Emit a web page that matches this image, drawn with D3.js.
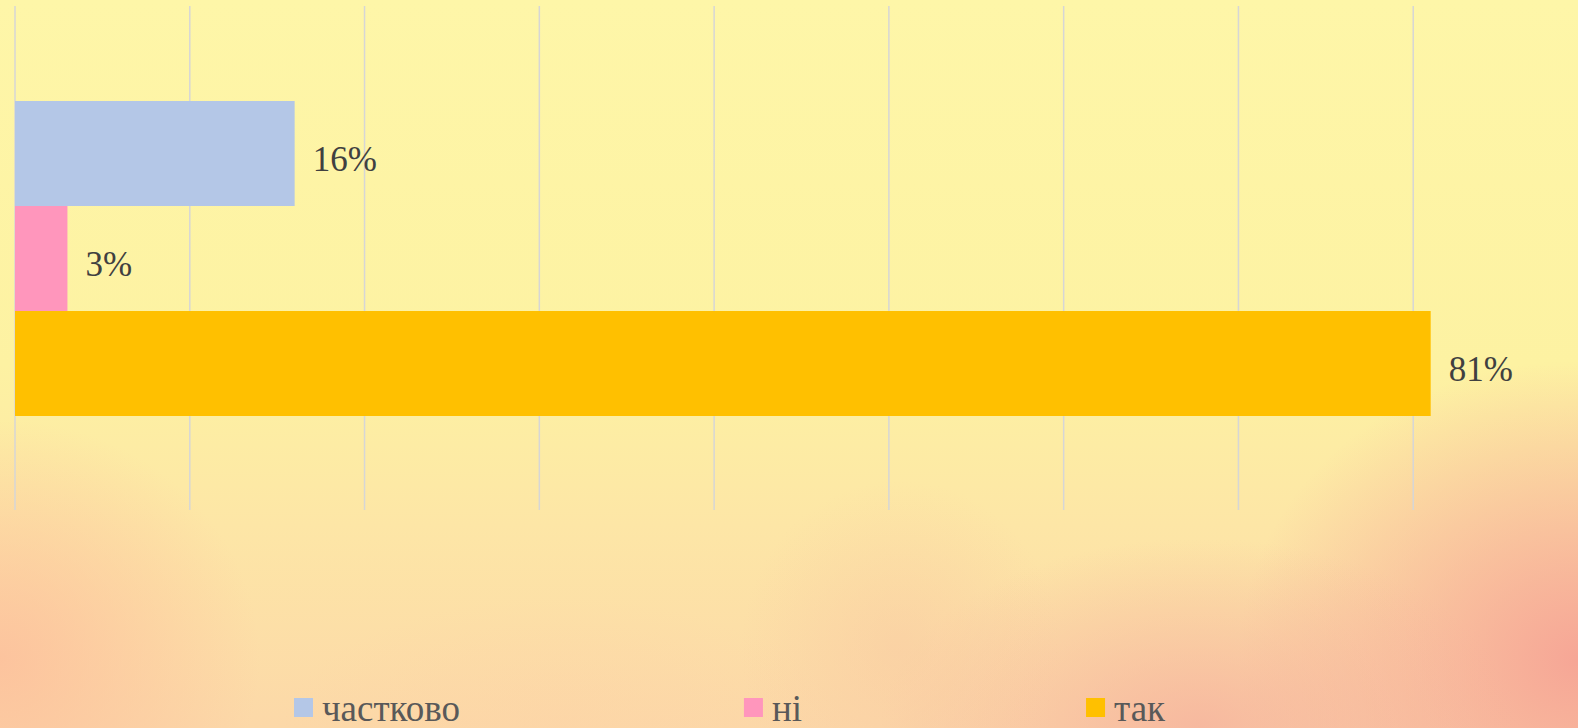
<!DOCTYPE html>
<html>
<head>
<meta charset="utf-8">
<script src="https://cdn.jsdelivr.net/npm/d3@7"></script>
<style>
  html, body { margin:0; padding:0; overflow:hidden; }
  svg { display:block; }
</style>
</head>
<body>
<svg id="chart" width="1578" height="728"></svg>
<script>
// data
const series  = ['частково', 'ні', 'так'];
const values  = [0.16, 0.03, 0.81];
const colors  = ['#b4c7e7', '#ff96bc', '#ffc000'];
const xTicks  = [0, 0.1, 0.2, 0.3, 0.4, 0.5, 0.6, 0.7, 0.8, 0.9];

const W = 1578, H = 728;
const svg = d3.select('#chart');

// --- blurred warm background ---------------------------------------------
const defs = svg.append('defs');
const lin = defs.append('linearGradient').attr('id', 'bg').attr('x1', 0).attr('y1', 0).attr('x2', 0).attr('y2', 1);
[[0, '#fef6a8'], [0.5, '#fdf2a2'], [0.72, '#fde6a6'], [1, '#fcd8a8']]
  .forEach(([o, c]) => lin.append('stop').attr('offset', o).attr('stop-color', c));

const blobs = [
  // cx, cy, rx, ry, colour, opacity
  [1578, 660, 340, 300, '#f6a696', 1.0],
  [1200, 728, 320, 190, '#f5ae9c', 0.75],
  [0,    660, 260, 240, '#fcbf9c', 0.85],
  [560,  728, 280, 130, '#fdd3a6', 0.5],
  [900,  650, 160, 170, '#f8c4a0', 0.45],
];
blobs.forEach((b, i) => {
  const g = defs.append('radialGradient').attr('id', 'blob' + i);
  g.append('stop').attr('offset', 0).attr('stop-color', b[4]).attr('stop-opacity', b[5]);
  g.append('stop').attr('offset', 1).attr('stop-color', b[4]).attr('stop-opacity', 0);
});

svg.append('rect').attr('width', W).attr('height', H).attr('fill', 'url(#bg)');
svg.append('g').selectAll('ellipse').data(blobs).join('ellipse')
  .attr('cx', d => d[0]).attr('cy', d => d[1]).attr('rx', d => d[2]).attr('ry', d => d[3])
  .attr('fill', (d, i) => `url(#blob${i})`);

// --- scales ---------------------------------------------------------------
const x = d3.scaleLinear().domain([0, 0.9]).range([15, 1588]);
const y = d3.scaleBand().domain(series).range([101, 416]).paddingInner(0);
const plotTop = 6, plotBottom = 510;

// vertical gridlines
svg.append('g').selectAll('line').data(xTicks).join('line')
  .attr('x1', d => x(d)).attr('x2', d => x(d))
  .attr('y1', plotTop).attr('y2', plotBottom)
  .attr('stroke', '#d6d6d6').attr('stroke-width', 1.5);

// bars
svg.append('g').selectAll('rect').data(series).join('rect')
  .attr('x', x(0)).attr('y', d => y(d))
  .attr('width', (d, i) => x(values[i]) - x(0))
  .attr('height', y.bandwidth())
  .attr('fill', (d, i) => colors[i]);

// value labels
svg.append('g').selectAll('text').data(series).join('text')
  .attr('x', (d, i) => x(values[i]) + 18)
  .attr('y', d => y(d) + y.bandwidth() / 2 + 5)
  .attr('dy', '0.35em')
  .attr('font-family', '"Liberation Serif", "Times New Roman", serif')
  .attr('font-size', 35).attr('fill', '#404040')
  .text((d, i) => d3.format('.0%')(values[i]));

// --- legend ---------------------------------------------------------------
const legend = svg.append('g').attr('font-family', '"Liberation Serif", "Times New Roman", serif');
let lx = 294;
series.forEach((s, i) => {
  const item = legend.append('g').attr('transform', `translate(${lx},0)`);
  item.append('rect').attr('x', 0).attr('y', 698).attr('width', 19).attr('height', 19).attr('fill', colors[i]);
  const t = item.append('text').attr('x', 28).attr('y', 721)
    .attr('font-size', 37).attr('fill', '#595959').text(s);
  lx += 28 + t.node().getComputedTextLength() + 284;
});
</script>
</body>
</html>
